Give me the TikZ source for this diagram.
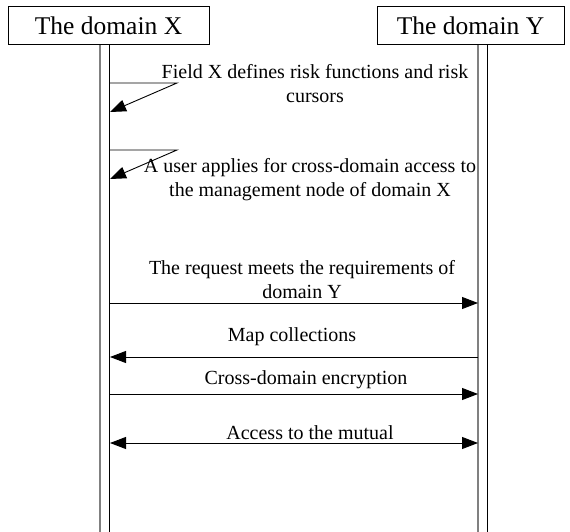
\documentclass[tikz,border=0pt]{standalone}
\usepackage{fontspec}
\setmainfont{Liberation Serif}
\usetikzlibrary{arrows.meta}

\begin{document}
\begin{tikzpicture}[x=1pt, y=-1pt,
    box/.style={draw, line width=1pt, inner sep=0pt, font=\fontsize{25.5}{30}\selectfont},
    msg/.style={align=center, inner sep=0pt, font=\fontsize{20}{24}\selectfont},
    life/.style={line width=1.6pt, draw=black!50},
    lifein/.style={line width=0.8pt},
    call/.style={line width=0.9pt, -{Triangle[length=16pt, width=12pt]}},
    both/.style={line width=0.9pt, {Triangle[length=16pt, width=12pt]}-{Triangle[length=16pt, width=12pt]}}]
    \useasboundingbox (0,0) rectangle (570,532);

    \node[box, minimum width=201pt, minimum height=38pt] (a) at (108.5,26) {The domain X};
    \node[box, minimum width=187pt, minimum height=38pt] (b) at (470.5,26) {The domain Y};

    \coordinate (a1) at (100,45);
    \coordinate (a2) at (100,532);
    \coordinate (a3) at (109.5,45);
    \coordinate (a4) at (109.5,532);
    \coordinate (b1) at (478,45);
    \coordinate (b2) at (478,532);
    \coordinate (b3) at (487.5,45);
    \coordinate (b4) at (487.5,532);
    \draw[life] (a1) -- (a2);
    \draw[lifein] (a3) -- (a4);
    \draw[life] (b1) -- (b2);
    \draw[lifein] (b3) -- (b4);

    \coordinate (c) at (110,83);
    \coordinate (d) at (177,83);
    \coordinate (e) at (110,112);
    \draw[call] (c) -- (d) -- (e);
    \node[msg] (f) at (315,83.5) {Field X defines risk functions and risk\\cursors};

    \coordinate (g) at (110,150);
    \coordinate (h) at (177,150);
    \coordinate (i) at (110,179);
    \draw[call] (g) -- (h) -- (i);
    \node[msg] (j) at (310,180) {A user applies for cross-domain access to\\the management node of domain X};

    \coordinate (k) at (110,303);
    \coordinate (l) at (478,303);
    \draw[call] (k) -- (l);
    \node[msg] (m) at (302,279.5) {The request meets the requirements of\\domain Y};

    \coordinate (n) at (478,357);
    \coordinate (o) at (110,357);
    \draw[call] (n) -- (o);
    \node[msg] (p) at (292,337) {Map collections};

    \coordinate (q) at (110,394);
    \coordinate (r) at (478,394);
    \draw[call] (q) -- (r);
    \node[msg] (s) at (306,380) {Cross-domain encryption};

    \coordinate (t) at (110,443);
    \coordinate (u) at (478,443);
    \draw[both] (t) -- (u);
    \node[msg] (v) at (310,433) {Access to the mutual};
  \end{tikzpicture}
\end{document}
